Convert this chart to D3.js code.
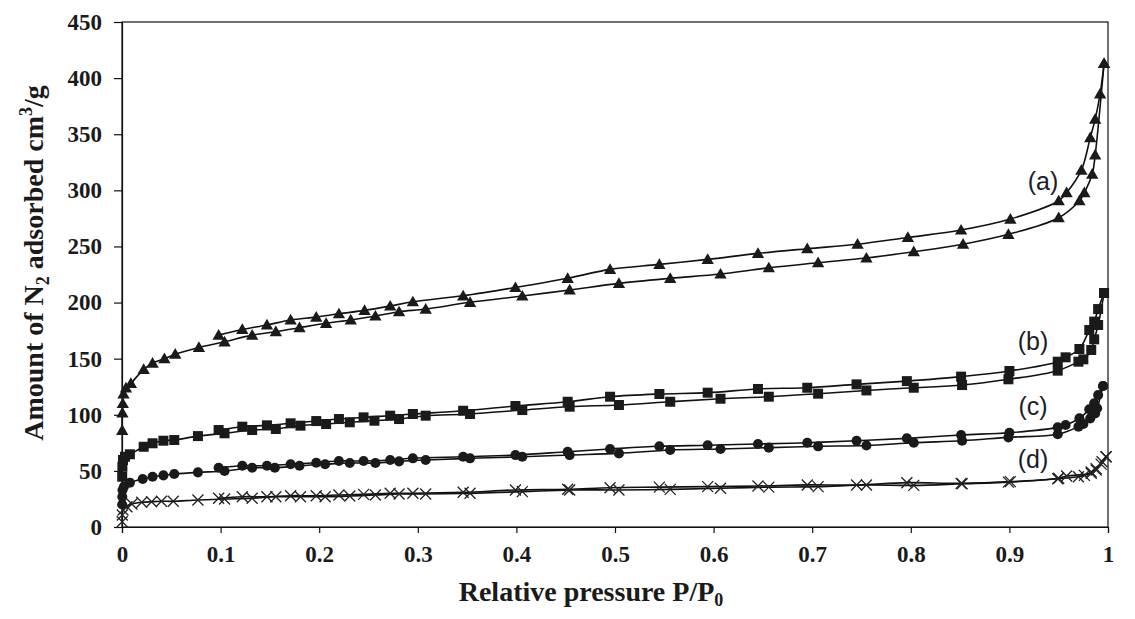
<!DOCTYPE html>
<html>
<head>
<meta charset="utf-8">
<script src="https://cdn.jsdelivr.net/npm/d3@7"></script>
<style>
  html, body { margin: 0; padding: 0; background: #fff; }
  svg { display: block; }
</style>
</head>
<body>
<svg id="chart" width="1135" height="619"></svg>
<script>
// ---------- DATA ----------
const xTickValues = [0, 0.1, 0.2, 0.3, 0.4, 0.5, 0.6, 0.7, 0.8, 0.9, 1];
const xTickLabels = ["0", "0.1", "0.2", "0.3", "0.4", "0.5", "0.6", "0.7", "0.8", "0.9", "1"];
const yTickValues = [0, 50, 100, 150, 200, 250, 300, 350, 400, 450];
const seriesLabels = ["(a)", "(b)", "(c)", "(d)"];

// (a) triangles – adsorption (lower) and desorption (upper)
const adsA = [[0.0002,86],[0.0004,101.6],[0.0008,110],[0.0015,118.5],[0.004,124],[0.009,128],[0.022,140.5],[0.031,146],[0.043,150],[0.054,154],[0.078,160],[0.104,165],[0.132,171],[0.156,174],[0.180,177.6],[0.207,181.5],[0.232,184.5],[0.257,188],[0.281,191.8],[0.308,194.2],[0.353,200.2],[0.406,205.8],[0.454,211.2],[0.504,217.1],[0.556,221.6],[0.607,225.4],[0.656,231],[0.706,235.5],[0.755,239.7],[0.803,245.3],[0.853,252],[0.899,260.8],[0.950,275.6],[0.971,290.7],[0.976,297.9],[0.984,314.5],[0.987,331.5],[0.996,413]];
const desA = [[0.996,413],[0.992,386],[0.987,363.5],[0.982,347],[0.973,318],[0.958,297.9],[0.950,290.7],[0.901,274.4],[0.851,264.6],[0.797,258],[0.746,252],[0.695,248],[0.645,243.8],[0.594,238.5],[0.545,234],[0.495,229.6],[0.452,221.6],[0.399,213.4],[0.346,206],[0.295,200.7],[0.272,196.9],[0.246,193],[0.220,190],[0.197,187],[0.171,184.5],[0.147,180],[0.122,176],[0.098,171]];

// (b) squares
const adsB = [[0.0002,44.8],[0.0004,53.7],[0.001,59.7],[0.003,62.6],[0.008,64.8],[0.022,71.5],[0.031,74.6],[0.042,76.9],[0.053,77.5],[0.077,81],[0.104,83.5],[0.132,86.4],[0.156,87.3],[0.181,90.3],[0.207,91.8],[0.231,93.3],[0.256,94.7],[0.281,96.2],[0.308,99.2],[0.353,100.7],[0.406,104.2],[0.454,107.2],[0.504,108.7],[0.556,111.6],[0.607,114.3],[0.656,116.1],[0.706,118.8],[0.755,121.7],[0.803,124.1],[0.852,126.5],[0.899,131.6],[0.949,139.3],[0.970,147.3],[0.975,149.4],[0.983,157.7],[0.986,167.2],[0.990,180],[0.996,208.5]];
const desB = [[0.996,208.5],[0.990,194.2],[0.986,183],[0.981,175.5],[0.971,158.6],[0.957,151.2],[0.949,147.3],[0.900,139],[0.851,134],[0.796,130],[0.745,127.1],[0.695,124.1],[0.645,123],[0.594,119.7],[0.545,118.5],[0.495,116.1],[0.452,111.6],[0.399,107.8],[0.346,103.6],[0.295,100.7],[0.272,99.2],[0.245,97.7],[0.220,96.2],[0.197,94.4],[0.171,92.4],[0.147,90.6],[0.122,89.4],[0.098,86.4]];

// (c) circles
const adsC = [[0.0002,20],[0.0003,27],[0.0005,33],[0.002,36],[0.008,39.5],[0.021,42.8],[0.031,44.8],[0.042,46],[0.053,47.2],[0.077,48.7],[0.104,49.9],[0.132,52.8],[0.155,52.8],[0.180,54.6],[0.206,55.9],[0.231,57],[0.257,57],[0.281,58.5],[0.308,59.7],[0.353,61.2],[0.406,62.6],[0.454,64.1],[0.504,65.6],[0.556,68.6],[0.607,69.5],[0.656,70.7],[0.706,71.9],[0.755,72.6],[0.803,75.1],[0.852,76.9],[0.899,79.9],[0.949,82.6],[0.970,89.4],[0.975,91.8],[0.982,96.8],[0.987,101.3],[0.989,105.8],[0.995,125.6]];
const desC = [[0.995,125.6],[0.990,117.6],[0.986,110.2],[0.981,104.9],[0.971,96.8],[0.957,90.9],[0.949,88.8],[0.900,84],[0.851,82],[0.796,79],[0.745,76.9],[0.695,75.1],[0.645,74],[0.594,72.8],[0.545,71.9],[0.495,69.5],[0.452,67.1],[0.399,64.1],[0.346,62.6],[0.295,61.2],[0.272,59.7],[0.245,58.8],[0.220,58.8],[0.197,57.3],[0.171,55.9],[0.147,54.6],[0.122,54.6],[0.098,52.8]];

// (d) crosses
const adsD = [[0.0002,4.7],[0.0003,10.7],[0.001,15.1],[0.005,18],[0.01,20.5],[0.02,22],[0.03,22.5],[0.04,22.9],[0.052,22.9],[0.077,24.1],[0.104,24.9],[0.132,25.6],[0.156,27],[0.181,27],[0.206,27],[0.231,27.6],[0.257,28.5],[0.281,29.4],[0.308,29.4],[0.353,30],[0.406,31.5],[0.454,33],[0.504,33],[0.556,33.5],[0.607,34.5],[0.656,35.5],[0.706,36],[0.755,37.4],[0.803,37.1],[0.852,38.5],[0.899,40],[0.949,43],[0.970,44.8],[0.976,46],[0.983,49],[0.988,52],[0.993,56],[0.998,62.6]];
const desD = [[0.998,62.6],[0.994,58.2],[0.988,50.8],[0.983,47.8],[0.958,45.4],[0.950,43.4],[0.901,40.4],[0.851,38.9],[0.796,39.5],[0.745,37.4],[0.695,37.5],[0.645,36.5],[0.594,36],[0.545,35.5],[0.495,35],[0.452,33.6],[0.399,33],[0.346,30.9],[0.295,30],[0.272,30],[0.245,29.1],[0.220,28.5],[0.197,27.9],[0.171,27.9],[0.147,27],[0.122,27],[0.098,25.6]];

// ---------- CHART ----------
const SERIF = '"Liberation Serif"';
const SANS = '"Liberation Sans"';
const svg = d3.select("#chart");
const margin = { left: 122, top: 22, right: 1135 - 1108, bottom: 619 - 527 };
const W = 1135 - margin.left - margin.right;
const H = 619 - margin.top - margin.bottom;

const x = d3.scaleLinear().domain([0, 1]).range([0, W]);
const y = d3.scaleLinear().domain([0, 450]).range([H, 0]);

const g = svg.append("g").attr("transform", `translate(${margin.left},${margin.top})`);

// frame
g.append("rect").attr("x", 0).attr("y", 0).attr("width", W).attr("height", H)
  .attr("fill", "none").attr("stroke", "#111").attr("stroke-width", 1.2);

function styleTicks(sel) {
  sel.select(".domain").attr("stroke", "#111").attr("stroke-width", 1.2);
  sel.selectAll(".tick line").attr("stroke", "#111").attr("stroke-width", 1.2);
  sel.selectAll(".tick text")
    .attr("fill", "#1a1a1a")
    .style("font-family", SERIF)
    .style("font-weight", "bold")
    .style("font-size", "23px");
}

// y axis
const yAxis = g.append("g").call(d3.axisLeft(y).tickValues(yTickValues).tickSize(8).tickPadding(12).tickFormat(d3.format("d")));
styleTicks(yAxis);

// x axis
const xAxis = g.append("g").attr("transform", `translate(0,${H})`)
  .call(d3.axisBottom(x).tickValues(xTickValues).tickSize(6).tickPadding(13).tickFormat((d, i) => xTickLabels[i]));
styleTicks(xAxis);

// axis titles
const xt = svg.append("text").attr("x", 591).attr("y", 601).attr("text-anchor", "middle")
  .style("font-family", SERIF).style("font-weight", "bold").style("font-size", "28px").attr("fill", "#1a1a1a");
xt.append("tspan").text("Relative pressure P/P");
xt.append("tspan").attr("dy", 5).style("font-size", "18px").text("0");

const yt = svg.append("text").attr("transform", "translate(43,263) rotate(-90)").attr("text-anchor", "middle")
  .style("font-family", SERIF).style("font-weight", "bold").style("font-size", "28px").attr("fill", "#1a1a1a");
yt.append("tspan").text("Amount of N");
yt.append("tspan").attr("dy", 6).style("font-size", "18px").text("2");
yt.append("tspan").attr("dy", -6).text(" adsorbed cm");
yt.append("tspan").attr("dy", -11).style("font-size", "18px").text("3");
yt.append("tspan").attr("dy", 11).text("/g");

// lines
const line = d3.line().x(d => x(d[0])).y(d => y(d[1])).curve(d3.curveCatmullRom.alpha(0.5));
const series = [
  { ads: adsA, des: desA, sym: "triangle" },
  { ads: adsB, des: desB, sym: "square" },
  { ads: adsC, des: desC, sym: "circle" },
  { ads: adsD, des: desD, sym: "cross" }
];

const symPath = {
  triangle: d3.symbol().type(d3.symbolTriangle).size(66)(),
  square: d3.symbol().type(d3.symbolSquare).size(100)(),
  circle: d3.symbol().type(d3.symbolCircle).size(80)(),
  cross: "M-5.5,-5.5L5.5,5.5M-5.5,5.5L5.5,-5.5"
};

series.forEach(s => {
  [s.ads, s.des].forEach(branch => {
    g.append("path").datum(branch).attr("d", line)
      .attr("fill", "none").attr("stroke", "#111").attr("stroke-width", 1.6);
  });
});

series.forEach(s => {
  const pts = s.ads.concat(s.des);
  g.append("g").selectAll("path").data(pts).join("path")
    .attr("transform", d => `translate(${x(d[0])},${y(d[1]) + (s.sym === "triangle" ? 1 : 0)})`)
    .attr("d", symPath[s.sym])
    .attr("fill", s.sym === "cross" ? "none" : "#1a1a1a")
    .attr("stroke", s.sym === "cross" ? "#222" : "none")
    .attr("stroke-width", 1.3);
});

// series labels
const labelPos = [[1043, 190], [1033, 350], [1033, 415], [1033, 468]];
svg.append("g").selectAll("text").data(seriesLabels).join("text")
  .attr("x", (d, i) => labelPos[i][0]).attr("y", (d, i) => labelPos[i][1])
  .attr("text-anchor", "middle")
  .style("font-family", SANS).style("font-size", "25px")
  .attr("fill", "#1c1c2a").text(d => d);
</script>
</body>
</html>
